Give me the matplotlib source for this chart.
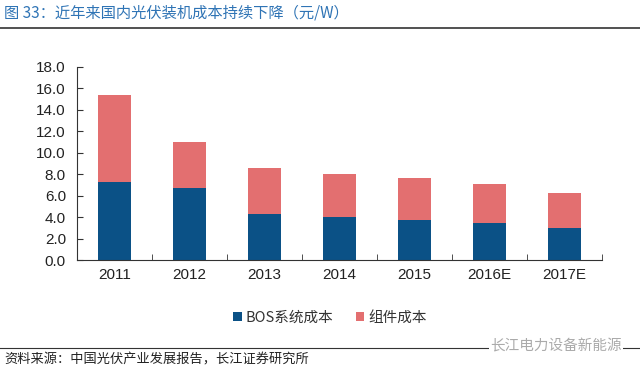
import numpy as np
import matplotlib.pyplot as plt
from matplotlib.lines import Line2D

plt.rcParams['font.family'] = ['Noto Sans CJK SC', 'DejaVu Sans']

years = ["2011", "2012", "2013", "2014", "2015", "2016E", "2017E"]
bos = [7.25, 6.7, 4.3, 4.0, 3.7, 3.45, 2.95]
module = [8.15, 4.3, 4.3, 4.0, 3.95, 3.65, 3.3]

c_bos = "#0b5186"
c_mod = "#e36f70"

fig = plt.figure(figsize=(6.4, 3.74), dpi=100)
ax = fig.add_axes([77 / 640, 1 - 260 / 374, (602 - 77) / 640, (260 - 67) / 374])

x = np.arange(len(years))
ax.bar(x, bos, width=0.43, color=c_bos, label="BOS系统成本")
ax.bar(x, module, width=0.43, bottom=bos, color=c_mod, label="组件成本")

ax.set_xlim(-0.5, len(years) - 0.5)
ax.set_ylim(0, 18)
yt = np.arange(0, 18.1, 2)
ax.set_yticks(yt)
ax.set_yticklabels([f"{v:.1f}" for v in yt], fontsize=11, family="Liberation Sans", color="#222222")
ax.set_xticks(x)
ax.set_xticklabels(years, fontsize=11, family="Liberation Sans", color="#222222")
ax.set_xticks(np.arange(-0.5, len(years)), minor=True)
ax.tick_params(axis="x", which="major", length=0, pad=6)
ax.tick_params(axis="x", which="minor", direction="in", length=4, color="#333333")
ax.tick_params(axis="y", direction="in", length=4, color="#333333", pad=8)
for s in ["top", "right"]:
    ax.spines[s].set_visible(False)
for s in ["left", "bottom"]:
    ax.spines[s].set_color("#333333")
    ax.spines[s].set_linewidth(0.8)

ax.legend(loc="center", bbox_to_anchor=(330 / 640, 1 - 318 / 374), bbox_transform=fig.transFigure,
          ncol=2, frameon=False, fontsize=10.5, handlelength=0.6, handleheight=0.6,
          handletextpad=0.3, columnspacing=1.5, labelcolor="#333333")

fig.text(4 / 640, 1 - 13 / 374, "图 33：近年来国内光伏装机成本持续下降（元/W）", fontsize=11,
         color="#2f74b5", va="center", ha="left")
fig.add_artist(Line2D([0, 1], [1 - 28 / 374, 1 - 28 / 374], color="#333333", lw=1.2))
fig.add_artist(Line2D([0, 1], [1 - 348 / 374, 1 - 348 / 374], color="#333333", lw=0.8))
fig.text(4 / 640, 1 - 360 / 374, "资料来源：中国光伏产业发展报告，长江证券研究所", fontsize=9.5,
         color="#222222", va="center", ha="left")
fig.text(622 / 640, 1 - 346 / 374, "长江电力设备新能源", fontsize=10.5, color="#aaaaaa",
         va="center", ha="right", bbox=dict(facecolor="white", edgecolor="none", pad=1))

fig.savefig("out.png", dpi=100)
